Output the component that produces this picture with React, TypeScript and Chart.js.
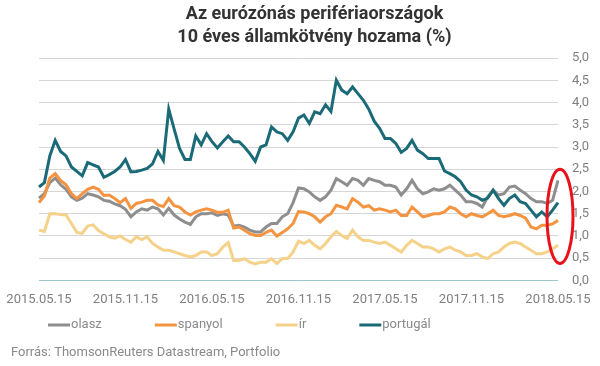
import { useEffect, useRef } from "react";
import { Chart, registerables } from "chart.js";

Chart.register(...registerables);

// ---- data ----
const titleLines = ["Az eurózónás perifériaországok", "10 éves államkötvény hozama (%)"];
const sourceText = "Forrás: ThomsonReuters Datastream, Portfolio";
const tickLabels = ["2015.05.15", "2015.11.15", "2016.05.15", "2016.11.15", "2017.05.15", "2017.11.15", "2018.05.15"];
const pointsPerTick = 16;
const seriesNames = ["olasz", "spanyol", "ír", "portugál"];
const seriesColors = ["#8e8e8e", "#f59440", "#f5d18a", "#1b6a78"];

const olasz = [
  1.85, 1.95, 2.20, 2.30, 2.15, 2.05, 1.88, 1.80, 1.85, 1.95, 1.92, 1.88, 1.80, 1.78, 1.72, 1.68, 1.60,
  1.43, 1.54, 1.61, 1.58, 1.65, 1.61, 1.47, 1.62, 1.47, 1.38, 1.31, 1.26, 1.43, 1.50, 1.50, 1.52,
  1.46, 1.50, 1.47, 1.22, 1.24, 1.20, 1.13, 1.09, 1.09, 1.20, 1.28, 1.28, 1.43, 1.50, 1.75, 2.08,
  2.06, 1.99, 1.88, 1.80, 1.88, 2.03, 2.29, 2.22, 2.14, 2.29, 2.25, 2.14, 2.29, 2.25, 2.22, 2.14,
  2.14, 2.10, 1.92, 2.06, 2.25, 2.06, 1.95, 1.99, 2.06, 2.03, 2.06, 2.14, 2.03, 1.92, 1.77, 1.77,
  1.73, 1.65, 1.88, 2.03, 1.92, 1.95, 2.10, 2.12, 2.03, 1.95, 1.84, 1.77, 1.77, 1.73, 1.80, 2.25,
];
const spanyol = [
  1.75, 1.90, 2.30, 2.40, 2.25, 2.15, 1.95, 1.84, 1.95, 2.05, 2.10, 2.05, 1.91, 1.92, 1.84, 1.75, 1.84,
  1.62, 1.73, 1.76, 1.80, 1.80, 1.70, 1.66, 1.84, 1.68, 1.65, 1.54, 1.47, 1.54, 1.58, 1.61, 1.58,
  1.53, 1.53, 1.58, 1.18, 1.20, 1.13, 1.05, 1.01, 1.01, 1.08, 1.13, 1.00, 1.08, 1.16, 1.28, 1.55,
  1.54, 1.50, 1.43, 1.31, 1.43, 1.50, 1.69, 1.65, 1.61, 1.84, 1.76, 1.65, 1.68, 1.58, 1.61, 1.58,
  1.54, 1.58, 1.46, 1.46, 1.65, 1.54, 1.43, 1.46, 1.50, 1.50, 1.54, 1.65, 1.61, 1.50, 1.43, 1.50,
  1.46, 1.43, 1.50, 1.58, 1.46, 1.43, 1.46, 1.50, 1.46, 1.40, 1.20, 1.16, 1.24, 1.24, 1.27, 1.35,
];
const ir = [
  1.13, 1.10, 1.50, 1.50, 1.48, 1.47, 1.28, 1.08, 1.06, 1.22, 1.25, 1.12, 1.05, 0.98, 0.95, 1.00, 0.92,
  0.86, 0.98, 0.92, 0.98, 0.83, 0.75, 0.68, 0.68, 0.64, 0.60, 0.56, 0.53, 0.56, 0.64, 0.64, 0.56,
  0.60, 0.75, 0.85, 0.45, 0.45, 0.49, 0.41, 0.37, 0.41, 0.41, 0.49, 0.38, 0.49, 0.49, 0.64, 0.88,
  0.83, 0.90, 0.79, 0.71, 0.83, 0.98, 1.10, 1.01, 0.94, 1.13, 0.98, 0.90, 0.90, 0.86, 0.83, 0.86,
  0.79, 0.71, 0.64, 0.79, 0.90, 0.83, 0.75, 0.75, 0.71, 0.64, 0.71, 0.75, 0.68, 0.64, 0.56, 0.56,
  0.60, 0.53, 0.49, 0.60, 0.64, 0.75, 0.83, 0.86, 0.83, 0.75, 0.68, 0.60, 0.60, 0.64, 0.71, 0.79,
];
const portugal = [
  2.10, 2.20, 2.80, 3.15, 2.90, 2.80, 2.55, 2.45, 2.35, 2.65, 2.60, 2.55, 2.32, 2.38, 2.45, 2.55, 2.72,
  2.44, 2.45, 2.48, 2.52, 2.62, 2.90, 2.70, 3.85, 3.40, 2.97, 2.72, 2.72, 3.25, 3.05, 3.30, 3.12,
  2.98, 3.12, 3.25, 3.12, 3.12, 3.00, 2.85, 2.68, 3.00, 3.05, 3.45, 3.34, 3.30, 3.15, 3.34, 3.65,
  3.72, 3.53, 3.79, 3.75, 3.95, 3.80, 4.50, 4.28, 4.20, 4.35, 4.20, 4.05, 3.85, 3.58, 3.42, 3.19,
  3.19, 3.08, 2.88, 2.97, 3.15, 2.93, 2.85, 2.74, 2.74, 2.74, 2.46, 2.40, 2.33, 2.22, 2.03, 1.92,
  1.88, 1.80, 1.85, 2.03, 1.84, 1.69, 1.84, 1.92, 1.77, 1.73, 1.58, 1.43, 1.54, 1.43, 1.58, 1.75,
];
const seriesValues = [olasz, spanyol, ir, portugal];
const yMin = 0;
const yMax = 5;
const yStep = 0.5;
const highlightRange = [0.38, 2.5]; // value range circled at the last point

const labels = olasz.map((_, i) => (i % pointsPerTick === 0 ? tickLabels[i / pointsPerTick] : ""));

const overlayPlugin = {
  id: "overlay",
  afterDatasetsDraw(chart: any) {
    const { ctx, scales } = chart;
    const x = scales.x;
    const y = scales.y;
    const last = labels.length - 1;
    const cx = x.getPixelForValue(last) + 2;
    const top = y.getPixelForValue(highlightRange[1]);
    const bot = y.getPixelForValue(highlightRange[0]);
    ctx.save();
    ctx.beginPath();
    ctx.ellipse(cx, (top + bot) / 2, 13, (bot - top) / 2, 0, 0, Math.PI * 2);
    ctx.strokeStyle = "#e8121a";
    ctx.lineWidth = 3;
    ctx.stroke();
    ctx.restore();
  },
  afterDraw(chart: any) {
    const { ctx } = chart;
    ctx.save();
    ctx.font = "13px Roboto";
    ctx.textBaseline = "middle";
    ctx.textAlign = "left";
    let lx = 48;
    const ly = 325;
    chart.data.datasets.forEach((ds: any) => {
      ctx.fillStyle = ds.borderColor;
      ctx.fillRect(lx, ly - 1.5, 22, 3);
      ctx.fillStyle = "#8a8a8a";
      ctx.fillText(ds.label, lx + 23, ly);
      lx += 23 + ctx.measureText(ds.label).width + 53;
    });
    ctx.fillStyle = "#8a8a8a";
    ctx.fillText(sourceText, 11, 353);
    ctx.restore();
  },
};

export default function App() {
  const ref = useRef<HTMLCanvasElement>(null);
  useEffect(() => {
    document.body.style.margin = "0";
    Chart.defaults.font.family = "Roboto";
    const chart = new Chart(ref.current!, {
      type: "line",
      data: {
        labels,
        datasets: seriesNames.map((name, k) => ({
          label: name,
          data: seriesValues[k],
          borderColor: seriesColors[k],
          backgroundColor: seriesColors[k],
          borderWidth: 3,
          pointRadius: 0,
          tension: 0,
          order: seriesNames.length - k,
        })),
      },
      options: {
        responsive: false,
        animation: false,
        layout: { padding: { left: 39, right: 10, top: 0, bottom: 46 } },
        plugins: {
          legend: { display: false },
          tooltip: { enabled: false },
          title: {
            display: true,
            text: titleLines,
            color: "#333333",
            font: { size: 18, weight: "bold", family: "Roboto", lineHeight: 1.28 },
            padding: { top: 3, bottom: 9 },
          },
        },
        scales: {
          x: {
            type: "category",
            grid: { display: false, drawTicks: false },
            border: { display: false },
            afterFit: (scale: any) => {
              scale.paddingLeft = 0;
              scale.paddingRight = 0;
            },
            ticks: {
              autoSkip: false,
              maxRotation: 0,
              minRotation: 0,
              padding: 12,
              color: "#808080",
              font: { size: 13 },
            },
          },
          y: {
            position: "right",
            min: yMin,
            max: yMax,
            border: { display: false },
            afterFit: (scale: any) => {
              scale.width = 32;
            },
            grid: {
              drawTicks: false,
              color: (c: any) => (c.tick && c.tick.value === 0 ? "#9cc6cb" : "#d6d6d6"),
              lineWidth: 1,
            },
            ticks: {
              stepSize: yStep,
              padding: 14,
              color: "#808080",
              font: { size: 13 },
              callback: (v: any) => Number(v).toFixed(1).replace(".", ","),
            },
          },
        },
      },
      plugins: [overlayPlugin],
    });
    return () => chart.destroy();
  }, []);
  return (
    <div style={{ width: 600, height: 366 }}>
      <canvas ref={ref} width={600} height={366} />
    </div>
  );
}
